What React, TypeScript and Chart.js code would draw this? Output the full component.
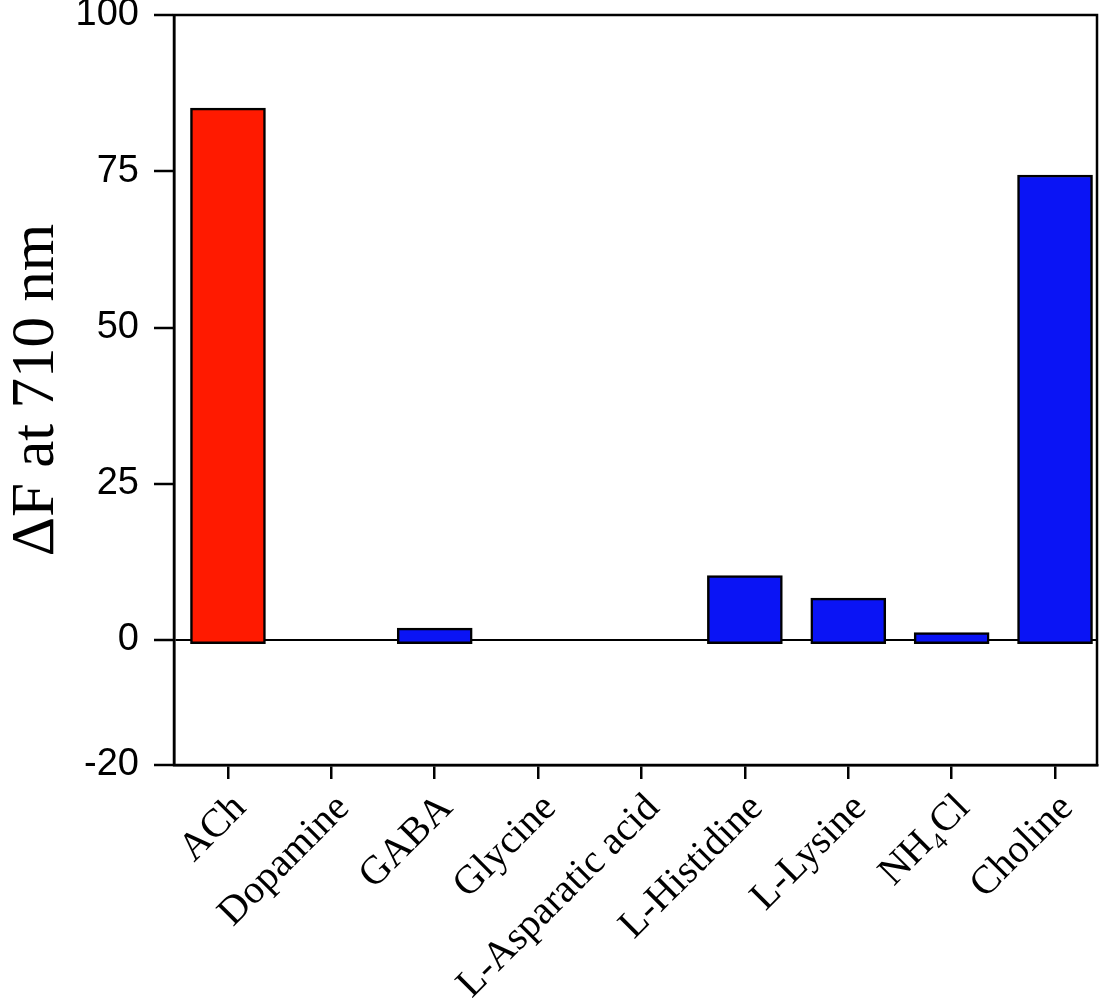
import React, { useEffect, useRef } from "react";
import { Chart, registerables } from "chart.js";

Chart.register(...registerables);

const categories = [
  "ACh",
  "Dopamine",
  "GABA",
  "Glycine",
  "L-Asparatic acid",
  "L-Histidine",
  "L-Lysine",
  "NH₄Cl",
  "Choline",
];
const values: (number | null)[] = [85.1, null, 1.9, null, null, 10.3, 6.7, 1.2, 74.4];
const barBase = -0.6;
const barColors = [
  "#ff1a00",
  "#0a14f5",
  "#0a14f5",
  "#0a14f5",
  "#0a14f5",
  "#0a14f5",
  "#0a14f5",
  "#0a14f5",
  "#0a14f5",
];
const yTickValues = [-20, 0, 25, 50, 75, 100];
const yMin = -20;
const yMax = 100;
const yTitle = "ΔF at 710 nm";

const boxPlugin = {
  id: "boxPlugin",
  afterDraw(chart: any) {
    const { ctx, chartArea } = chart;
    ctx.save();
    ctx.strokeStyle = "#000";
    ctx.lineWidth = 2.5;
    ctx.strokeRect(chartArea.left, chartArea.top, chartArea.right - chartArea.left, chartArea.bottom - chartArea.top);
    ctx.restore();
  },
};

export default function App() {
  const ref = useRef<HTMLCanvasElement | null>(null);
  useEffect(() => {
    if (!ref.current) return;
    const data = categories.map((c, i) => ({
      x: i,
      y: values[i] === null ? null : [barBase, values[i] as number],
    }));
    const chart = new Chart(ref.current, {
      type: "bar",
      data: {
        datasets: [
          {
            label: "ΔF",
            data: data as any,
            backgroundColor: barColors,
            borderColor: "#000",
            borderWidth: 2.5,
            borderSkipped: false,
            barThickness: 75,
          },
        ],
      },
      options: {
        responsive: false,
        animation: false,
        layout: { padding: { top: 15, right: 10, left: 0, bottom: 0 } },
        plugins: { legend: { display: false }, tooltip: { enabled: false } },
        scales: {
          x: {
            type: "linear",
            min: -0.522,
            max: 8.406,
            offset: false,
            afterBuildTicks: (scale: any) => {
              scale.ticks = categories.map((_, i) => ({ value: i }));
            },
            afterFit: (scale: any) => {
              scale.height = 235;
              scale.paddingLeft = 0;
              scale.paddingRight = 0;
            },
            grid: {
              offset: false,
              drawOnChartArea: false,
              drawTicks: true,
              tickLength: 14,
              tickColor: "#000",
              tickWidth: 2.5,
              color: "#000",
              lineWidth: 2.5,
            },
            border: { display: true, color: "#000", width: 2.5 },
            ticks: {
              autoSkip: false,
              minRotation: 45,
              maxRotation: 45,
              padding: 6,
              labelOffset: 12,
              color: "#000",
              font: { family: "Liberation Serif", size: 40 },
              callback: (v: any) => categories[v as number] ?? "",
            },
          },
          y: {
            min: yMin,
            max: yMax,
            afterBuildTicks: (scale: any) => {
              scale.ticks = yTickValues.map((v) => ({ value: v }));
            },
            afterFit: (scale: any) => {
              scale.width = 174;
              scale.paddingTop = 0;
              scale.paddingBottom = 0;
            },
            grid: {
              drawOnChartArea: true,
              drawTicks: true,
              tickLength: 20,
              tickColor: "#000",
              tickWidth: 2.5,
              lineWidth: 2,
              color: (ctx: any) => (ctx.tick && ctx.tick.value === 0 ? "#000" : "rgba(0,0,0,0)"),
            },
            border: { display: true, color: "#000", width: 2.5 },
            ticks: {
              padding: 15,
              color: "#000",
              font: { family: "Liberation Sans", size: 38 },
            },
            title: {
              display: true,
              text: yTitle,
              color: "#000",
              padding: 0,
              font: { family: "Liberation Serif", size: 61 },
            },
          },
        },
      },
      plugins: [boxPlugin],
    });
    return () => chart.destroy();
  }, []);
  return (
    <div style={{ position: "fixed", left: 0, top: 0, width: 1107, height: 1000 }}>
      <canvas ref={ref} width={1107} height={1000} style={{ display: "block" }} />
    </div>
  );
}
